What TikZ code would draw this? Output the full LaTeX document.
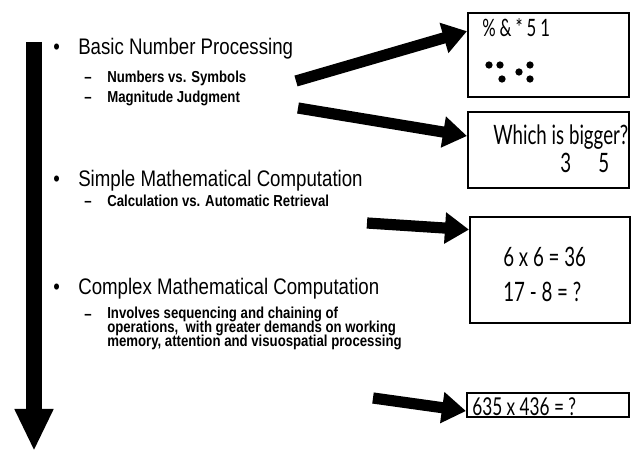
\documentclass[tikz,border=0pt]{standalone}
\usepackage{fontspec}
\setmainfont{Liberation Sans}
\newfontfamily\narrowfont[FakeStretch=0.83]{Liberation Sans}
\newfontfamily\handfont[FakeStretch=0.7]{Lato}
\newcommand\tightlines{\lineskiplimit=-20pt\relax}
\usetikzlibrary{arrows.meta}
\usetikzlibrary{calc}

\begin{document}
\begin{tikzpicture}[x=0.025cm, y=-0.025cm]
		\tikzset{
			box/.style={draw=black, line width=1.4pt, inner sep=0pt},
			head/.style={anchor=base west, inner sep=0pt, font=\narrowfont\fontsize{16}{18}\selectfont},
			sub/.style={anchor=base west, inner sep=0pt, align=left, font=\narrowfont\bfseries\fontsize{11.3}{10}\selectfont\tightlines},
			hand/.style={anchor=base west, inner sep=0pt, font=\handfont\fontsize{19}{20}\selectfont},
			fat/.style={line width=0.28cm, -{Triangle[length=0.6cm, width=0.75cm]}},
			spine/.style={line width=0.38cm, -{Triangle[length=1.05cm, width=0.9cm]}},
		}
		\useasboundingbox (0,0) rectangle (631,452);
		
		\coordinate (top) at (34,42);
		\coordinate (bottom) at (34,451);
		\draw[spine] (top) -- (bottom);
		
		\node[head] (b1) at (53,55) {•};
		\node[head] (basic) at (78,55) {Basic Number Processing};
		\node[sub] (d1) at (84,83) {–};
		\node[sub] (sym) at (107,83) {Numbers vs. Symbols};
		\node[sub] (d2) at (84,103) {–};
		\node[sub] (mag) at (107,103) {Magnitude Judgment};
		
		\node[head] (b2) at (53,187) {•};
		\node[head] (simple) at (78,187) {Simple Mathematical Computation};
		\node[sub] (d3) at (84,207) {–};
		\node[sub] (ret) at (107,207) {Calculation vs. Automatic Retrieval};
		
		\node[head] (b3) at (53,295) {•};
		\node[head] (complex) at (78,295) {Complex Mathematical Computation};
		\node[sub] (d4) at (84,319) {–};
		\node[sub] (seq) at (107,347) {Involves sequencing and chaining of\\operations,\ \ with greater demands on working\\memory, attention and visuospatial processing};
		
		\node[box, minimum width=4.025cm, minimum height=2.1cm] (numbox) at (548.5,55) {};
		\node[box, minimum width=4.025cm, minimum height=1.9cm] (cmpbox) at (548.5,150) {};
		\node[box, minimum width=4cm, minimum height=2.65cm] (calcbox) at (550,270) {};
		\node[box, minimum width=4.05cm, minimum height=0.6cm] (bigbox) at (548,405) {};
		
		\node[hand, font=\handfont\fontsize{17}{18}\selectfont] (symtxt) at (482,37) {\%\,\&\,*\,5\,1};
		\foreach \p in {(489,65),(500,65),(502,79),(519,72),(530,65),(530,79)}
			\fill \p circle (2.6pt);
		\node[hand] (which) at (493,145) {Which is bigger?};
		\node[hand] (three) at (560,173) {3};
		\node[hand] (five) at (598,173) {5};
		\node[hand] (mult) at (503,267) {6 x 6 = 36};
		\node[hand] (subtr) at (503,302) {17 - 8 = ?};
		\node[hand, font=\handfont\fontsize{17.5}{18}\selectfont] (hard) at (472,415) {635 x 436 = ?};
		
		\coordinate (s1) at (296,81);
		\coordinate (s2) at (298,108);
		\coordinate (s3) at (367,223);
		\coordinate (s4) at (373,398);
		\draw[fat] (s1) -- ([yshift=-4.8mm]numbox.north west);
		\draw[fat] (s2) -- ([yshift=3.5mm]cmpbox.west);
		\draw[fat] (s3) -- ([yshift=-3.4mm]calcbox.north west);
		\draw[fat] (s4) -- ([yshift=-1.5mm]bigbox.west);
	\end{tikzpicture}
\end{document}
